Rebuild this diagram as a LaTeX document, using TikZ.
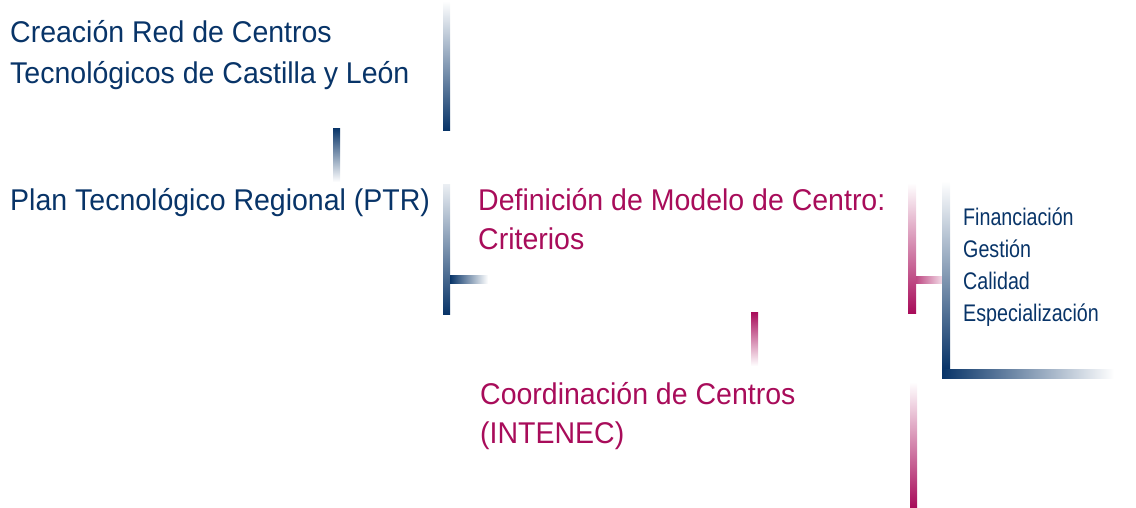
\documentclass[tikz,border=0pt]{standalone}
\usepackage{fontspec}
\setmainfont{Liberation Sans}
\newfontfamily\bigfont[FakeStretch=0.95]{Liberation Sans}
\newfontfamily\smallfont[FakeStretch=0.82]{Liberation Sans}
\definecolor{navy}{RGB}{8,52,104}
\definecolor{mag}{RGB}{168,12,90}
\tikzset{
  big/.style={anchor=base west, inner sep=0pt, font=\bigfont\fontsize{30}{36}\selectfont},
  small/.style={anchor=base west, inner sep=0pt, font=\smallfont\fontsize{24}{28}\selectfont, text=navy},
  bluetxt/.style={big, text=navy},
  magtxt/.style={big, text=mag},
}
\begin{document}
\begin{tikzpicture}[x=1pt,y=-1pt]
\useasboundingbox (0,0) rectangle (1136,507);
% texts
\node[bluetxt] (c1) at (10,42) {Creación Red de Centros};
\node[bluetxt] (c2) at (10,83) {Tecnológicos de Castilla y León};
\node[bluetxt] (ptr) at (10,210) {Plan Tecnológico Regional (PTR)};
\node[magtxt] (d1) at (478,210) {Definición de Modelo de Centro:};
\node[magtxt] (d2) at (478,249) {Criterios};
\node[magtxt] (k1) at (480,404) {Coordinación de Centros};
\node[magtxt] (k2) at (480,443) {(INTENEC)};
\node[small] (f1) at (963,225) {Financiación};
\node[small] (f2) at (963,257) {Gestión};
\node[small] (f3) at (963,289) {Calidad};
\node[small] (f4) at (963,321) {Especialización};
% bars
\shade[top color=white, bottom color=navy] (443,1) rectangle (450,130);
\shade[top color=navy, bottom color=white] (333,128) rectangle (340,182);
\shade[top color=navy!8, bottom color=navy] (443,184) rectangle (450,314);
\shade[left color=navy, right color=white] (450,275) rectangle (488,283);
\shade[top color=white, bottom color=mag] (908,183) rectangle (916,313);
\shade[left color=mag!75, right color=mag!15] (916,276) rectangle (942,283);
\shade[top color=white, bottom color=navy] (942,181) rectangle (950,369);
\shade[left color=navy, right color=white] (942,369) rectangle (1114,378);
\shade[top color=mag, bottom color=white] (751,312) rectangle (758,366);
\shade[top color=white, bottom color=mag] (910,382) rectangle (917,507);
\end{tikzpicture}
\end{document}
